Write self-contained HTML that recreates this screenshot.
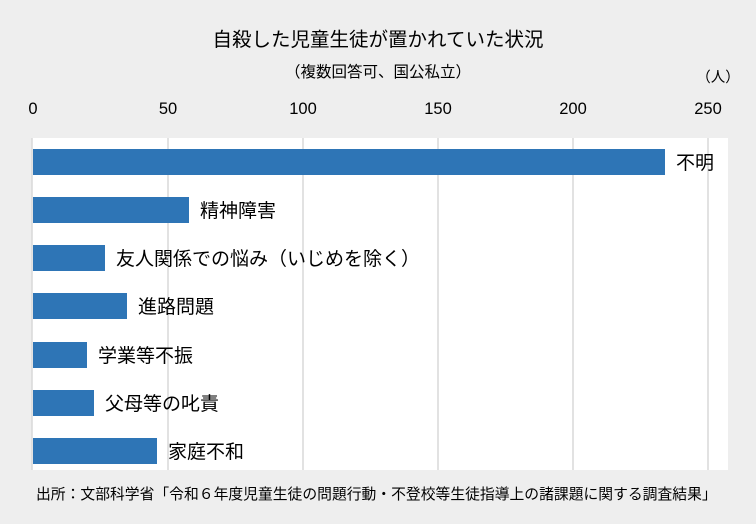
<!DOCTYPE html><html><head><meta charset="utf-8"><style>
body{margin:0;width:756px;height:519px;background:#eeeeee;overflow:hidden;font-family:"Liberation Sans","Noto Sans CJK JP",sans-serif;color:#222}
</style></head><body>
<svg width="756" height="519" xmlns="http://www.w3.org/2000/svg" style="font-family:'Liberation Sans','Noto Sans CJK JP',sans-serif">
<rect width="756" height="519" fill="#eeeeee"/>
<rect x="32" y="138" width="696" height="332" fill="#fff"/>
<g stroke="#d9d9d9" stroke-width="1.5">
<line x1="32" y1="138" x2="32" y2="470"/><line x1="168" y1="138" x2="168" y2="470"/><line x1="303" y1="138" x2="303" y2="470"/><line x1="438" y1="138" x2="438" y2="470"/><line x1="573" y1="138" x2="573" y2="470"/><line x1="708" y1="138" x2="708" y2="470"/>
</g>
<text x="378" y="46" font-size="19.5" text-anchor="middle">自殺した児童生徒が置かれていた状況</text>
<text x="378" y="77" font-size="15.5" text-anchor="middle">（複数回答可、国公私立）</text>
<text x="718" y="82" font-size="14.5" text-anchor="middle">（人）</text>
<g font-size="16.5" text-anchor="middle">
<text x="33" y="114">0</text><text x="168" y="114">50</text><text x="303" y="114">100</text><text x="438" y="114">150</text><text x="573" y="114">200</text><text x="708" y="114">250</text>
</g>
<g fill="#2e75b6">
<rect x="33" y="149" width="632" height="26"/>
<rect x="33" y="197" width="156" height="26"/>
<rect x="33" y="245" width="72" height="26"/>
<rect x="33" y="293" width="94" height="26"/>
<rect x="33" y="342" width="54" height="26"/>
<rect x="33" y="390" width="61" height="26"/>
<rect x="33" y="438" width="124" height="26"/>
</g>
<g font-size="19">
<text x="676" y="169">不明</text>
<text x="200" y="217">精神障害</text>
<text x="116" y="265">友人関係での悩み（いじめを除く）</text>
<text x="138" y="313">進路問題</text>
<text x="98" y="362">学業等不振</text>
<text x="105" y="410">父母等の叱責</text>
<text x="168" y="458">家庭不和</text>
</g>
<text x="36" y="499" font-size="14.8">出所：文部科学省「令和６年度児童生徒の問題行動・不登校等生徒指導上の諸課題に関する調査結果」</text>
</svg>
</body></html>
